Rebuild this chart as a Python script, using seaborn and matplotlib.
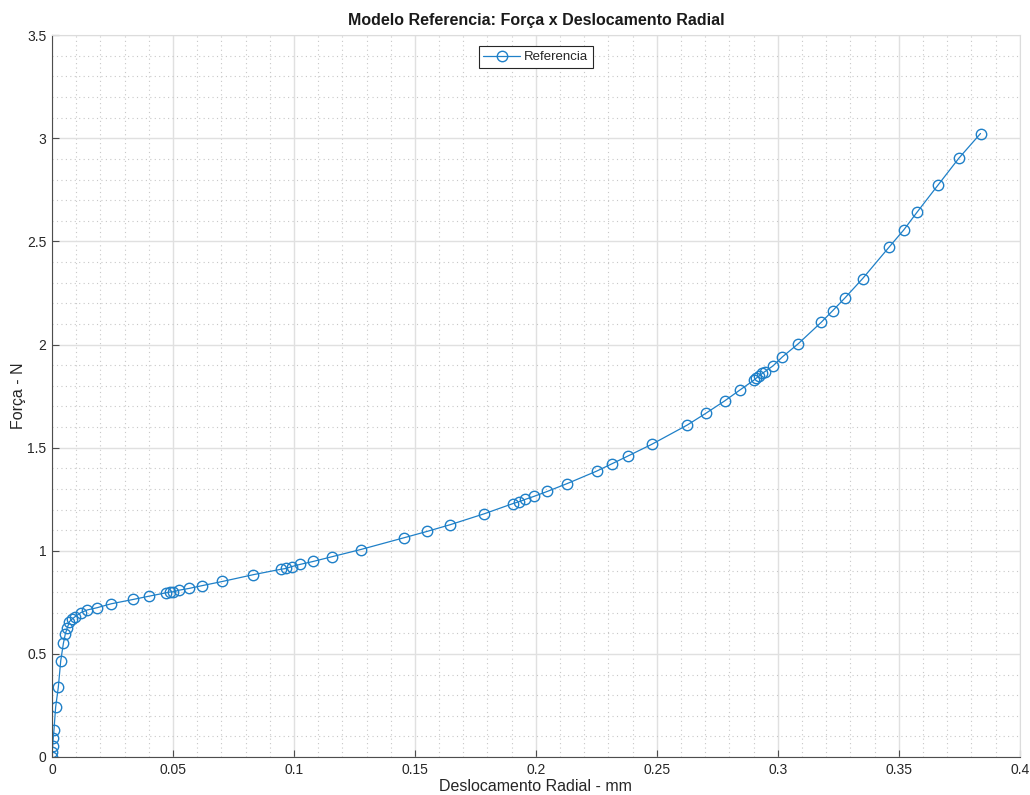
import matplotlib
matplotlib.use("Agg")
import matplotlib.pyplot as plt
import seaborn as sns
import pandas as pd
from matplotlib.ticker import MultipleLocator

deslocamento = [
    0.0, 0.0001, 0.0003, 0.0005, 0.0008, 0.0015, 0.0026, 0.0036, 0.0047, 0.0055,
    0.0063, 0.0072, 0.0081, 0.0095, 0.0119, 0.0146, 0.0187, 0.0245, 0.0336, 0.0402,
    0.0471, 0.0488, 0.0501, 0.0526, 0.0565, 0.0621, 0.0704, 0.0832, 0.0945, 0.0967,
    0.0990, 0.1026, 0.1079, 0.1157, 0.1276, 0.1455, 0.1551, 0.1645, 0.1786, 0.1906,
    0.1931, 0.1956, 0.1993, 0.2048, 0.2130, 0.2251, 0.2315, 0.2380, 0.2479, 0.2625,
    0.2702, 0.2781, 0.2843, 0.2900, 0.2911, 0.2922, 0.2936, 0.2946, 0.2981, 0.3019,
    0.3083, 0.3179, 0.3227, 0.3277, 0.3351, 0.3460, 0.3521, 0.3576, 0.3661, 0.3749,
    0.3838,
]
forca = [
    0.0, 0.025, 0.055, 0.090, 0.130, 0.242, 0.338, 0.466, 0.551, 0.597,
    0.626, 0.656, 0.667, 0.680, 0.700, 0.713, 0.724, 0.743, 0.764, 0.780,
    0.796, 0.800, 0.801, 0.809, 0.817, 0.831, 0.851, 0.884, 0.910, 0.914,
    0.923, 0.934, 0.948, 0.971, 1.006, 1.063, 1.094, 1.126, 1.179, 1.229,
    1.238, 1.249, 1.264, 1.288, 1.326, 1.386, 1.422, 1.459, 1.516, 1.609,
    1.666, 1.727, 1.779, 1.826, 1.837, 1.846, 1.860, 1.868, 1.897, 1.940,
    2.002, 2.107, 2.164, 2.225, 2.320, 2.472, 2.556, 2.642, 2.771, 2.904,
    3.023,
]
serie = "Referencia"
x_ticks = [0, 0.05, 0.1, 0.15, 0.2, 0.25, 0.3, 0.35, 0.4]
x_labels = ["0", "0.05", "0.1", "0.15", "0.2", "0.25", "0.3", "0.35", "0.4"]
y_ticks = [0, 0.5, 1, 1.5, 2, 2.5, 3, 3.5]
y_labels = ["0", "0.5", "1", "1.5", "2", "2.5", "3", "3.5"]

df = pd.DataFrame({"x": deslocamento, "y": forca, "serie": serie})

sns.set_theme(style="white")
plt.rcParams["font.family"] = ["Liberation Sans", "DejaVu Sans"]

fig = plt.figure(figsize=(10.3, 7.95), dpi=100)
ax = fig.add_axes([0.0505, 0.0478, 0.9395, 0.908])

color = "#1f80c8"
sns.lineplot(data=df, x="x", y="y", hue="serie", palette=[color], sort=False,
             estimator=None, marker="o", markersize=7.5, markerfacecolor="none",
             markeredgecolor=color, markeredgewidth=1.0, linewidth=0.9, ax=ax)

ax.set_xticks(x_ticks, x_labels)
ax.set_yticks(y_ticks, y_labels)
ax.xaxis.set_minor_locator(MultipleLocator(0.01))
ax.yaxis.set_minor_locator(MultipleLocator(0.1))
ax.set_xlim(0, 0.4)
ax.set_ylim(0, 3.5)

ax.grid(which="major", color="#e0e0e0", linewidth=1.0, linestyle="-")
ax.grid(which="minor", color="#c8c8c8", linewidth=0.8, linestyle=(0, (1, 3)))
ax.set_axisbelow(True)

for s in ax.spines.values():
    s.set_visible(True)
    s.set_color("#4d4d4d")
    s.set_linewidth(0.8)
ax.spines["top"].set_color("#dcdcdc")
ax.spines["right"].set_color("#dcdcdc")

ax.tick_params(which="major", direction="in", length=5, width=0.8, color="#4d4d4d",
               labelsize=10, labelcolor="#262626", pad=4, top=False, right=False,
               bottom=True, left=True)
ax.tick_params(which="minor", length=0)

ax.set_xlabel("Deslocamento Radial - mm", fontsize=11.5, color="#262626", labelpad=2)
ax.set_ylabel("Força - N", fontsize=11.5, color="#262626", labelpad=1)
ax.set_title("Modelo Referencia: Força x Deslocamento Radial", fontsize=11.5,
             fontweight="bold", color="#1a1a1a", pad=7)

leg = ax.legend(loc="upper center", bbox_to_anchor=(0.5, 0.99), fontsize=9.5,
                frameon=True, fancybox=False, handlelength=2.8, borderpad=0.35,
                handletextpad=0.3, borderaxespad=0.3)
leg.get_frame().set_edgecolor("#262626")
leg.get_frame().set_linewidth(0.8)
leg.get_frame().set_alpha(1)

fig.savefig("out.png", dpi=100)
